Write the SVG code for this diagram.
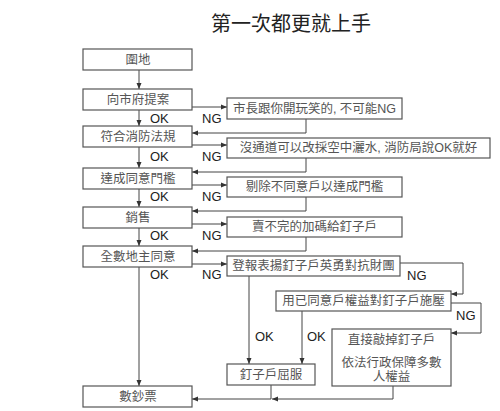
<svg xmlns="http://www.w3.org/2000/svg" width="500" height="411" viewBox="0 0 500 411">
<defs>
<marker id="ah" viewBox="0 0 6 6" refX="6" refY="3" markerWidth="6" markerHeight="6" markerUnits="userSpaceOnUse" orient="auto">
<path d="M0,0.5 L6,3 L0,5.5 Z" fill="#333"/>
</marker>
<style>
.box{fill:#fff;stroke:#555;stroke-width:1.2}
.t{font-family:"Liberation Sans","Noto Sans CJK TC",sans-serif;font-size:12.5px;fill:#555;text-anchor:middle;dominant-baseline:central}
.lb{font-family:"Liberation Sans","Noto Sans CJK TC",sans-serif;font-size:13px;fill:#222;dominant-baseline:central}
.c{fill:none;stroke:#444;stroke-width:1}
.title{font-family:"Liberation Serif","Noto Sans CJK TC",serif;font-size:20px;fill:#222;text-anchor:middle}
</style>
</defs>
<rect width="500" height="411" fill="#fff"/>
<text class="title" x="291" y="31">第一次都更就上手</text>

<g id="connectors">
<path class="c" d="M139,70 V89" marker-end="url(#ah)"/>
<path class="c" d="M139,110 V126" marker-end="url(#ah)"/>
<path class="c" d="M139,147 V168" marker-end="url(#ah)"/>
<path class="c" d="M139,189 V207" marker-end="url(#ah)"/>
<path class="c" d="M139,228 V246" marker-end="url(#ah)"/>
<path class="c" d="M139,267 V386" marker-end="url(#ah)"/>

<path class="c" d="M192,107 H227" marker-end="url(#ah)"/>
<path class="c" d="M306,119 V133 H192" marker-end="url(#ah)"/>
<path class="c" d="M192,145 H227" marker-end="url(#ah)"/>
<path class="c" d="M306,158 V172 H192" marker-end="url(#ah)"/>
<path class="c" d="M192,185 H227" marker-end="url(#ah)"/>
<path class="c" d="M306,197 V211 H192" marker-end="url(#ah)"/>
<path class="c" d="M192,224 H227" marker-end="url(#ah)"/>
<path class="c" d="M306,237 V251 H192" marker-end="url(#ah)"/>
<path class="c" d="M192,264 H227" marker-end="url(#ah)"/>

<path class="c" d="M400,263 H463 V294 H451" marker-end="url(#ah)"/>
<path class="c" d="M451,303 H481 V333 H451" marker-end="url(#ah)"/>
<path class="c" d="M249,276 V364" marker-end="url(#ah)"/>
<path class="c" d="M302,311 V364" marker-end="url(#ah)"/>
<path class="c" d="M393,386 V399 H272" marker-end="url(#ah)"/>
<path class="c" d="M271,385 V399 H192" marker-end="url(#ah)"/>

<text class="lb" x="150" y="118">OK</text>
<text class="lb" x="150" y="156">OK</text>
<text class="lb" x="150" y="196">OK</text>
<text class="lb" x="150" y="235">OK</text>
<text class="lb" x="150" y="274">OK</text>
<text class="lb" x="202" y="118">NG</text>
<text class="lb" x="202" y="156">NG</text>
<text class="lb" x="202" y="196">NG</text>
<text class="lb" x="202" y="235">NG</text>
<text class="lb" x="202" y="274">NG</text>
<text class="lb" x="407" y="275">NG</text>
<text class="lb" x="456" y="315">NG</text>
<text class="lb" x="255" y="336">OK</text>
<text class="lb" x="307" y="336">OK</text>
</g>

<g id="n1"><rect class="box" x="83" y="49" width="109" height="21"/><text class="t" x="138" y="59.5">圍地</text></g>
<g id="n2"><rect class="box" x="83" y="89" width="109" height="21"/><text class="t" x="138" y="99.5">向市府提案</text></g>
<g id="n3"><rect class="box" x="83" y="126" width="109" height="21"/><text class="t" x="138" y="136.5">符合消防法規</text></g>
<g id="n4"><rect class="box" x="83" y="168" width="109" height="21"/><text class="t" x="138" y="178.5">達成同意門檻</text></g>
<g id="n5"><rect class="box" x="83" y="207" width="109" height="21"/><text class="t" x="138" y="217.5">銷售</text></g>
<g id="n6"><rect class="box" x="83" y="246" width="109" height="21"/><text class="t" x="138" y="256.5">全數地主同意</text></g>
<g id="n7"><rect class="box" x="83" y="386" width="109" height="21"/><text class="t" x="138" y="396.5">數鈔票</text></g>

<g id="r1"><rect class="box" x="227" y="98" width="175" height="21"/><text class="t" x="314.5" y="108.5">市長跟你開玩笑的, 不可能NG</text></g>
<g id="r2"><rect class="box" x="227" y="138" width="263" height="20"/><text class="t" x="358.5" y="148">沒通道可以改採空中灑水, 消防局說OK就好</text></g>
<g id="r3"><rect class="box" x="227" y="177" width="175" height="20"/><text class="t" x="314.5" y="187">剔除不同意戶以達成門檻</text></g>
<g id="r4"><rect class="box" x="227" y="217" width="175" height="20"/><text class="t" x="314.5" y="227">賣不完的加碼給釘子戶</text></g>
<g id="r5"><rect class="box" x="227" y="256" width="173" height="20"/><text class="t" x="313.5" y="266">登報表揚釘子戶英勇對抗財團</text></g>
<g id="r6"><rect class="box" x="276" y="291" width="175" height="20"/><text class="t" x="363.5" y="301">用已同意戶權益對釘子戶施壓</text></g>
<g id="r7"><rect class="box" x="332" y="329" width="119" height="57"/><text class="t" x="391.5" y="340">直接敲掉釘子戶</text><text class="t" x="391.5" y="363">依法行政保障多數</text><text class="t" x="391.5" y="377">人權益</text></g>
<g id="r8"><rect class="box" x="227" y="364" width="88" height="21"/><text class="t" x="271" y="374.5">釘子戶屈服</text></g>
</svg>
